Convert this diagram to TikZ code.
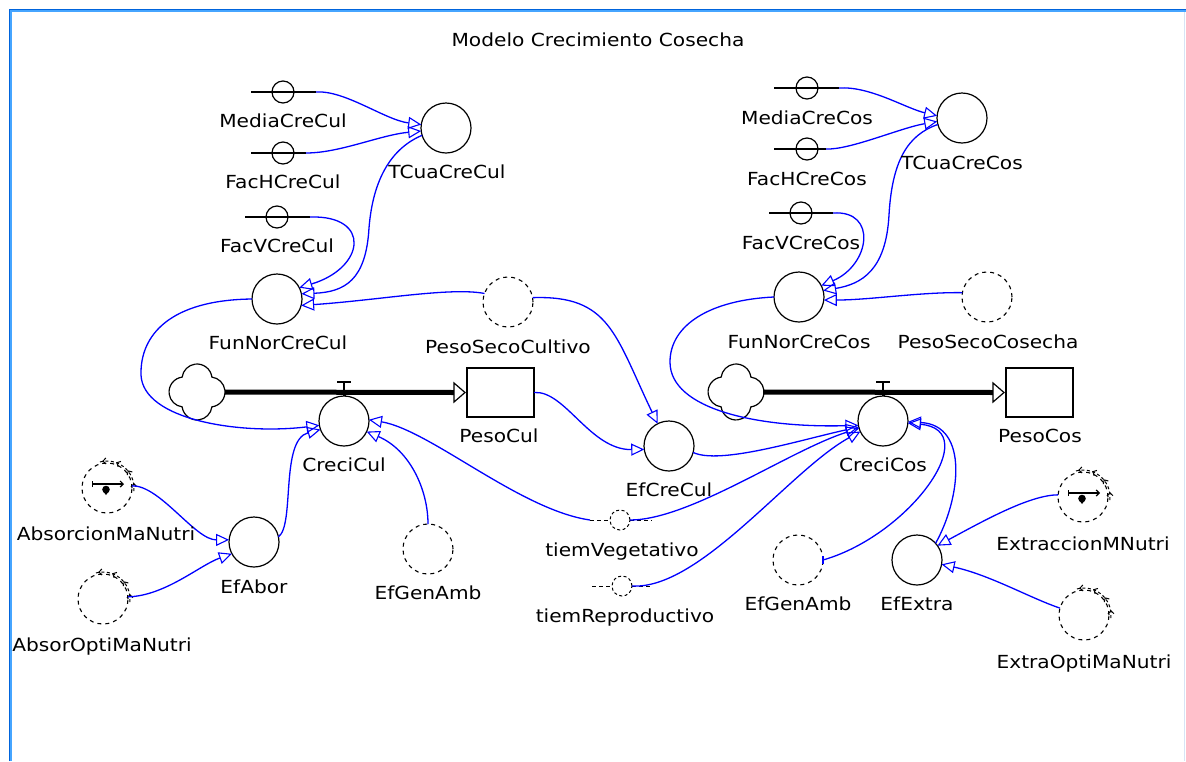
\documentclass[tikz,border=0pt]{standalone}
\usepackage{fontspec}
\setmainfont{DejaVu Sans}[FakeStretch=1.12]
\usetikzlibrary{arrows.meta,decorations.markings,calc}

\definecolor{linkblue}{RGB}{0,0,255}
\definecolor{frameA}{RGB}{0,100,220}
\definecolor{frameB}{RGB}{70,165,255}
\definecolor{frameC}{RGB}{215,228,245}

\begin{document}
\begin{tikzpicture}[x=1pt, y=-1pt,
  every node/.style={inner sep=0pt, outer sep=0pt},
  aux/.style={circle, draw=black, line width=1.2pt, minimum size=50pt},
  shadowvar/.style={circle, draw=black, line width=1.1pt, dash pattern=on 4pt off 4pt, minimum size=50pt},
  timevar/.style={circle, draw=black, line width=1pt, dash pattern=on 3pt off 2.5pt, minimum size=20pt},
  timetail/.style={draw=black, line width=1pt, dash pattern=on 4pt off 3pt},
  constvar/.style={circle, draw=black, line width=1.2pt, minimum size=22pt},
  constline/.style={draw=black, line width=1.2pt},
  stockbox/.style={rectangle, draw=black, line width=1.2pt, minimum width=67pt, minimum height=49pt},
  lbl/.style={font=\fontsize{18}{20}\selectfont, text height=13pt, text depth=0pt, inner sep=0pt},
  influence/.style={draw=linkblue, line width=1.3pt,
    -{Triangle[open, length=13pt, width=12pt, line width=1.1pt]}},
  flowpipe/.style={draw=black, line width=5pt},
  pipehead/.style={draw=black, fill=white, line width=1.2pt, line join=miter},
  valve/.style={draw=black, line width=1.2pt},
  cloudline/.style={draw=black, line width=1.2pt},
  ghostarc/.style={draw=black, line width=1pt, dash pattern=on 3pt off 2.5pt,
    postaction={decorate},
    decoration={markings, mark=between positions 0.12 and 0.9 step 0.26 with
      {\arrow[solid, line width=1pt]{Straight Barb[length=3pt, width=6pt, reversed]}}}},
  flowicon/.style={draw=black, line width=1.2pt, {Bar[width=6pt]}-{Straight Barb[length=3pt, width=6pt]}}
]
\fill[white] (0,0) rectangle (1186,761);
\useasboundingbox (0,0) rectangle (1186,761);

% window frame
\draw[frameA, line width=1.3pt] (9.5,761) -- (9.5,9.5) -- (1186,9.5);
\draw[frameB, line width=1.2pt] (11,761) -- (11,11) -- (1186,11);
\draw[frameC, line width=1pt] (1184.5,12) -- (1184.5,761);

\node[lbl] (title) at (598,40) {Modelo Crecimiento Cosecha};

% constants
\node[constvar] (MediaCreCul) at (283,92) {};
\node[constvar] (FacHCreCul) at (283,153) {};
\node[constvar] (FacVCreCul) at (277,217) {};
\node[constvar] (MediaCreCos) at (807,88) {};
\node[constvar] (FacHCreCos) at (807,149) {};
\node[constvar] (FacVCreCos) at (801,213) {};
\draw[constline] ([xshift=-32pt]MediaCreCul.center) -- ([xshift=33pt]MediaCreCul.center) coordinate (MediaCreCul-out);
\draw[constline] ([xshift=-32pt]FacHCreCul.center) -- ([xshift=23pt]FacHCreCul.center) coordinate (FacHCreCul-out);
\draw[constline] ([xshift=-32pt]FacVCreCul.center) -- ([xshift=33pt]FacVCreCul.center) coordinate (FacVCreCul-out);
\draw[constline] ([xshift=-33pt]MediaCreCos.center) -- ([xshift=32pt]MediaCreCos.center) coordinate (MediaCreCos-out);
\draw[constline] ([xshift=-33pt]FacHCreCos.center) -- ([xshift=19pt]FacHCreCos.center) coordinate (FacHCreCos-out);
\draw[constline] ([xshift=-32pt]FacVCreCos.center) -- ([xshift=32pt]FacVCreCos.center) coordinate (FacVCreCos-out);

% auxiliaries
\node[aux] (TCuaCreCul) at (446,128) {};
\node[aux] (FunNorCreCul) at (277,299) {};
\node[aux] (CreciCul) at (344,421) {};
\node[aux] (EfAbor) at (254,542) {};
\node[aux] (EfCreCul) at (669,446) {};
\node[aux] (TCuaCreCos) at (962,118) {};
\node[aux] (FunNorCreCos) at (799,297) {};
\node[aux] (CreciCos) at (883,421) {};
\node[aux] (EfExtra) at (917,560) {};

% shadow variables
\node[shadowvar] (PesoSecoCultivo) at (508,302) {};
\node[shadowvar] (EfGenAmbA) at (428,549) {};
\node[shadowvar] (PesoSecoCosecha) at (987,297) {};
\node[shadowvar] (EfGenAmbB) at (798,560) {};
\node[shadowvar] (AbsorcionMaNutri) at (107,488) {};
\node[shadowvar] (AbsorOptiMaNutri) at (103,599) {};
\node[shadowvar] (ExtraccionMNutri) at (1083,497) {};
\node[shadowvar] (ExtraOptiMaNutri) at (1084,615) {};

% data marks on the input shadows
\foreach \g in {AbsorcionMaNutri,AbsorOptiMaNutri,ExtraccionMNutri,ExtraOptiMaNutri}{
  \begin{scope}[shift={(\g.center)}, yscale=-1]
    \draw[ghostarc] (105:27) arc[start angle=105, end angle=-10, radius=27];
  \end{scope}
}
\foreach \g in {AbsorcionMaNutri,ExtraccionMNutri}{
  \begin{scope}[shift={(\g.center)}, yscale=-1]
    \draw[flowicon] (-15,4) -- (17,4);
    \fill[black] (-1,-1.5) circle[radius=3.8];
    \fill[black] (-4,-3) -- (2,-3) -- (-1,-7) -- cycle;
  \end{scope}
}

% time variables
\node[timevar] (tiemVegetativo) at (620,520) {};
\node[timevar] (tiemReproductivo) at (622,586) {};
\draw[timetail] ([xshift=-30pt]tiemVegetativo.center) coordinate (tiemVegetativo-tail) -- (tiemVegetativo.west);
\draw[timetail] (tiemVegetativo.east) -- ([xshift=32pt]tiemVegetativo.center);
\draw[timetail] ([xshift=-30pt]tiemReproductivo.center) coordinate (tiemReproductivo-tail) -- (tiemReproductivo.west);
\draw[timetail] (tiemReproductivo.east) -- ([xshift=30pt]tiemReproductivo.center);

% stocks
\node[stockbox] (PesoCul) at (500.5,392.5) {};
\node[stockbox] (PesoCos) at (1039.5,392.5) {};

% sources
\coordinate (SourceCul) at (197,392);
\coordinate (SourceCos) at (736,392);
\foreach \s in {SourceCul,SourceCos}{
  \begin{scope}[shift={(\s)}, yscale=-1]
    \draw[cloudline] (14.9,14.9)
      arc[start angle=7.3, end angle=172.7, radius=15]
      arc[start angle=97.3, end angle=262.7, radius=15]
      arc[start angle=187.3, end angle=352.7, radius=15]
      arc[start angle=277.3, end angle=442.7, radius=15] -- cycle;
  \end{scope}
}

% flows
\draw[flowpipe] ([xshift=28pt]SourceCul) -- ([xshift=-12pt]PesoCul.west);
\draw[pipehead] ([xshift=-13pt,yshift=9.5pt]PesoCul.west) -- ([xshift=-2pt]PesoCul.west) -- ([xshift=-13pt,yshift=-9.5pt]PesoCul.west) -- cycle;
\draw[flowpipe] ([xshift=27pt]SourceCos) -- ([xshift=-12pt]PesoCos.west);
\draw[pipehead] ([xshift=-13pt,yshift=9.5pt]PesoCos.west) -- ([xshift=-2pt]PesoCos.west) -- ([xshift=-13pt,yshift=-9.5pt]PesoCos.west) -- cycle;

% valves
\foreach \v in {CreciCul,CreciCos}{
  \draw[valve] ([yshift=14pt]\v.north) -- (\v.north);
  \draw[valve] ([xshift=-7pt,yshift=14pt]\v.north) -- ([xshift=7pt,yshift=14pt]\v.north);
  \draw[black, line width=3pt] ([yshift=3pt]\v.north) -- (\v.north);
}

% influences
\draw[influence] (MediaCreCul-out) .. controls (345,90) and (385,120) .. (TCuaCreCul.172);
\draw[influence] (FacHCreCul-out) .. controls (340,153) and (380,135) .. (TCuaCreCul.187);
\draw[influence] (TCuaCreCul.197) .. controls (392,148) and (373,178) .. (369,228)
  .. controls (366,280) and (345,292) .. (FunNorCreCul.12);
\draw[influence] (FacVCreCul-out) .. controls (372,215) and (365,268) .. (FunNorCreCul.27);
\draw[influence] (PesoSecoCultivo.160) .. controls (450,287) and (380,300) .. (FunNorCreCul.-15);
\draw[influence] (FunNorCreCul.west) .. controls (170,300) and (140,335) .. (141,375)
  .. controls (143,420) and (240,435) .. (CreciCul.190);
\draw[influence] (PesoSecoCultivo.10) .. controls (610,295) and (615,335) .. (EfCreCul.117);
\draw[influence] (PesoCul.east) .. controls (565,390) and (590,450) .. (EfCreCul.188);
\draw[influence] (EfCreCul.-15) .. controls (720,465) and (800,440) .. (CreciCos.194);
\draw[influence] (FunNorCreCos.west) .. controls (710,300) and (670,325) .. (670,362)
  .. controls (670,410) and (760,428) .. (CreciCos.190);
\draw[influence] (PesoSecoCosecha.170) .. controls (920,292) and (870,300) .. (FunNorCreCos.-7);
\draw[influence] (TCuaCreCos.195) .. controls (907,135) and (892,162) .. (889,215)
  .. controls (886,270) and (862,284) .. (FunNorCreCos.15);
\draw[influence] (FacVCreCos-out) .. controls (878,210) and (870,265) .. (FunNorCreCos.27);
\draw[influence] (MediaCreCos-out) .. controls (870,86) and (905,108) .. (TCuaCreCos.175);
\draw[influence] (FacHCreCos-out) .. controls (850,150) and (900,128) .. (TCuaCreCos.188);
\draw[influence] (tiemVegetativo-tail) .. controls (520,510) and (430,430) .. (CreciCul.3);
\draw[influence] (tiemVegetativo.east) .. controls (690,520) and (790,450) .. (CreciCos.197);
\draw[influence] (tiemReproductivo.east) .. controls (700,590) and (790,470) .. (CreciCos.205);
\draw[influence] (EfGenAmbA.north) .. controls (428,490) and (410,450) .. (CreciCul.-25);
\draw[influence] (EfAbor.12) .. controls (295,525) and (280,440) .. (CreciCul.200);
\draw[influence] (AbsorcionMaNutri.5) .. controls (160,485) and (195,540) .. (EfAbor.175);
\draw[influence] (AbsorOptiMaNutri.5) .. controls (165,596) and (200,565) .. (EfAbor.208);
\draw[influence] (EfGenAmbB.east) .. controls (910,535) and (985,430) .. (CreciCos.-5);
\draw[linkblue, line width=1.2pt] ([yshift=4pt]EfGenAmbB.east) -- ([yshift=-4pt]EfGenAmbB.east);
\draw[influence] (EfExtra.42) .. controls (960,500) and (970,425) .. (CreciCos.-2);
\draw[influence] (ExtraccionMNutri.175) .. controls (1030,495) and (985,520) .. (EfExtra.35);
\draw[influence] (ExtraOptiMaNutri.164) .. controls (1030,598) and (990,575) .. (EfExtra.-10);

% names
\node[lbl] (MediaCreCul-name) at (283,121) {MediaCreCul};
\node[lbl] (FacHCreCul-name) at (283,182) {FacHCreCul};
\node[lbl] (FacVCreCul-name) at (277,246) {FacVCreCul};
\node[lbl] (TCuaCreCul-name) at (447,172) {TCuaCreCul};
\node[lbl] (FunNorCreCul-name) at (278,343) {FunNorCreCul};
\node[lbl] (PesoSecoCultivo-name) at (508,347) {PesoSecoCultivo};
\node[lbl] (PesoCul-name) at (499,436) {PesoCul};
\node[lbl] (CreciCul-name) at (344,465) {CreciCul};
\node[lbl] (AbsorcionMaNutri-name) at (106,534) {AbsorcionMaNutri};
\node[lbl] (AbsorOptiMaNutri-name) at (102,645) {AbsorOptiMaNutri};
\node[lbl] (EfAbor-name) at (254,587) {EfAbor};
\node[lbl] (EfGenAmbA-name) at (428,593) {EfGenAmb};
\node[lbl] (tiemVegetativo-name) at (622,550) {tiemVegetativo};
\node[lbl] (tiemReproductivo-name) at (625,616) {tiemReproductivo};
\node[lbl] (EfCreCul-name) at (669,490) {EfCreCul};
\node[lbl] (MediaCreCos-name) at (807,118) {MediaCreCos};
\node[lbl] (FacHCreCos-name) at (807,179) {FacHCreCos};
\node[lbl] (FacVCreCos-name) at (801,243) {FacVCreCos};
\node[lbl] (TCuaCreCos-name) at (962,163) {TCuaCreCos};
\node[lbl] (FunNorCreCos-name) at (799,342) {FunNorCreCos};
\node[lbl] (PesoSecoCosecha-name) at (988,342) {PesoSecoCosecha};
\node[lbl] (PesoCos-name) at (1040,436) {PesoCos};
\node[lbl] (CreciCos-name) at (883,465) {CreciCos};
\node[lbl] (EfGenAmbB-name) at (798,604) {EfGenAmb};
\node[lbl] (EfExtra-name) at (917,604) {EfExtra};
\node[lbl] (ExtraccionMNutri-name) at (1083,544) {ExtraccionMNutri};
\node[lbl] (ExtraOptiMaNutri-name) at (1084,662) {ExtraOptiMaNutri};
\end{tikzpicture}
\end{document}
